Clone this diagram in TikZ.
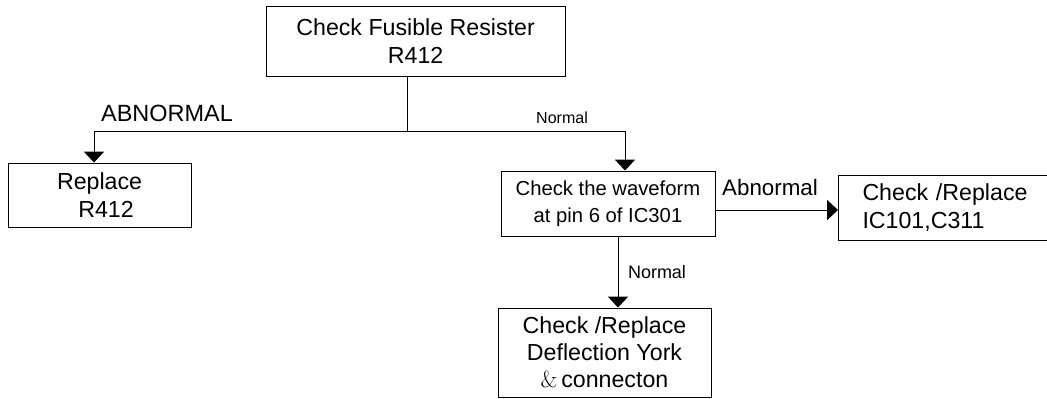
\documentclass[tikz,border=0pt]{standalone}
\usepackage{fontspec}
\setmainfont{Liberation Sans}
\newfontfamily\ampfont{Latin Modern Roman}
\usetikzlibrary{arrows.meta}

\begin{document}
\begin{tikzpicture}[
    box/.style={draw, line width=0.7pt, align=center, inner sep=0pt},
    arr/.style={-{Triangle[width=0.5cm,length=0.27cm]}, line width=0.7pt},
    bigtxt/.style={font=\fontsize{16.5}{19.4}\selectfont},
    lbl/.style={inner sep=0pt}
]
    \clip (0,0) rectangle (26.175,9.95);

    % Boxes
    \node[box,bigtxt,minimum width=7.475cm,minimum height=1.75cm] (fuse) at (10.39,8.925) {Check Fusible Resister\\R412};
    \node[box,bigtxt,minimum width=4.575cm,minimum height=1.6cm] (repl) at (2.49,5.075) {Replace\\\ \ R412};
    \node[box,font=\fontsize{14.4}{19.4}\selectfont,minimum width=5.35cm,minimum height=1.625cm] (wave) at (15.2,4.8625) {Check the waveform\\at pin 6 of IC301};
    \node[box,bigtxt,anchor=west,align=left,text width=5.2cm,inner xsep=0.6cm,minimum height=1.625cm] (ic) at (20.95,4.7625) {Check /Replace\\IC101,C311};
    \node[box,bigtxt,minimum width=5.325cm,minimum height=2.225cm] (york) at (15.1125,1.1375) {Check /Replace\\Deflection York\\{\ampfont\&}\,connecton};

    % Connectors
    \coordinate (split) at (10.175,6.675);
    \coordinate (lt) at (2.35,6.675);
    \coordinate (rt) at (15.625,6.675);
    \draw[line width=0.7pt] (fuse.south -| split) -- (split);
    \draw[line width=0.7pt] (lt) -- (rt);
    \draw[arr] (lt) -- (lt |- repl.north);
    \draw[arr] (rt) -- (rt |- wave.north);
    \coordinate (ab) at (17.875,4.7);
    \draw[arr] (ab) -- (ab -| ic.west);
    \coordinate (dn) at (15.45,4.05);
    \draw[arr] (dn) -- (dn |- york.north);

    % Labels
    \node[lbl,font=\fontsize{16.7}{20}\selectfont] (abn1) at (4.175,7.125) {ABNORMAL};
    \node[lbl,font=\fontsize{11.4}{14}\selectfont] (nor1) at (14.05,7.0) {Normal};
    \node[lbl,font=\fontsize{15.9}{19}\selectfont] (abn2) at (19.25,5.25) {Abnormal};
    \node[lbl,font=\fontsize{12.8}{15}\selectfont] (nor2) at (16.425,3.15) {Normal};
\end{tikzpicture}
\end{document}
